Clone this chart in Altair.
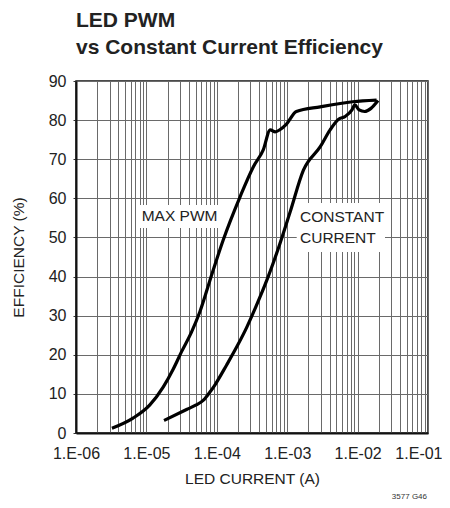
import altair as alt
import pandas as pd

FONT = "Liberation Sans, Arial, sans-serif"

# MAX PWM curve: LED current (A) and efficiency (%)
pwm_current = [3.24e-6, 6.46e-6, 1.12e-5, 1.74e-5, 2.40e-5, 3.16e-5, 4.37e-5, 5.75e-5,
               8.51e-5, 1.23e-4, 2.14e-4, 3.31e-4, 4.57e-4, 5.75e-4, 6.76e-4, 7.94e-4,
               9.77e-4, 1.35e-3, 2.95e-3, 8.51e-3, 1.86e-2]
pwm_eff = [1.2, 3.8, 7.2, 11.8, 16.3, 20.8, 25.8, 31.0,
           40.6, 49.3, 60.4, 68.1, 72.4, 77.5, 77.0, 77.6,
           79.0, 82.2, 83.4, 84.7, 85.1]

# CONSTANT CURRENT curve
cc_current = [1.78e-5, 3.72e-5, 5.01e-5, 6.46e-5, 7.94e-5, 9.33e-5, 1.38e-4, 2.0e-4,
              2.66e-4, 3.13e-4, 4.07e-4, 5.37e-4, 7.41e-4, 1.10e-3, 1.70e-3, 2.95e-3,
              4.07e-3, 5.37e-3, 6.61e-3, 8.32e-3, 9.12e-3, 1.05e-2, 1.26e-2, 1.55e-2,
              1.95e-2]
cc_eff = [3.2, 6.0, 7.1, 8.4, 10.4, 12.2, 17.4, 22.6,
          27.0, 29.8, 34.6, 40.0, 47.0, 56.5, 67.2, 73.2,
          77.5, 80.2, 80.9, 82.6, 83.9, 82.6, 82.2, 83.0,
          85.0]

# annotation labels
label_text = ["MAX PWM", "CONSTANT", "CURRENT"]
label_x = [8.57e-6, 1.52e-3, 1.52e-3]
label_y = [55.6, 55.3, 49.8]

# white boxes behind the labels (in data units)
box_x = [7.85e-6, 1.365e-3]
box_x2 = [1.186e-4, 2.45e-2]
box_y = [52.4, 46.3]
box_y2 = [58.3, 58.8]

x_ticks = [m * 10.0 ** e for e in range(-6, -1) for m in range(1, 10)] + [0.1]
y_ticks = [0.0, 10.0, 20.0, 30.0, 40.0, 50.0, 60.0, 70.0, 80.0, 90.0]

lines_df = pd.DataFrame({
    "current": pwm_current + cc_current,
    "eff": pwm_eff + cc_eff,
    "series": ["MAX PWM"] * len(pwm_current) + ["CONSTANT CURRENT"] * len(cc_current),
})
labels_df = pd.DataFrame({"text": label_text, "current": label_x, "eff": label_y})
boxes_df = pd.DataFrame({"current": box_x, "current2": box_x2, "eff": box_y, "eff2": box_y2})

xscale = alt.Scale(type="log", domain=[1e-6, 1e-1], nice=False)
yscale = alt.Scale(domain=[0, 90], nice=False, zero=True)

label_expr = ("abs(log(datum.value)/LN10 - round(log(datum.value)/LN10)) < 0.01 ? "
              "'1.E-0' + (-round(log(datum.value)/LN10)) : ''")

x_axis = alt.Axis(values=x_ticks, labelExpr=label_expr, title="LED CURRENT (A)",
                  ticks=False, labelPadding=12, labelOverlap=False, labelFlush=False,
                  labelAlign={"condition": {"test": "datum.value > 0.05", "value": "right"},
                              "value": "center"},
                  labelOffset={"condition": {"test": "datum.value > 0.05", "value": 14},
                               "value": 0},
                  grid=True, gridColor="#6a6a6a", gridWidth=1,
                  domainColor="#111", domainWidth=2,
                  labelFont=FONT, labelFontSize=16, labelColor="#222",
                  titleFont=FONT, titleFontSize=15.5, titleFontWeight="normal", titleColor="#222",
                  titleX=176, titleY=50, titleBaseline="alphabetic")
y_axis = alt.Axis(values=y_ticks, tickCount=10, format="d", title="EFFICIENCY (%)",
                  tickSize=3, tickColor="#333",
                  labelPadding=7, labelOverlap=False, labelFlush=False,
                  grid=True, gridColor="#6a6a6a", gridWidth=1,
                  domainColor="#111", domainWidth=2,
                  labelFont=FONT, labelFontSize=16, labelColor="#222",
                  titleFont=FONT, titleFontSize=15.5, titleFontWeight="normal", titleColor="#222",
                  titleX=-58, titleY=176, titleAngle=270, titleAlign="center",
                  titleBaseline="middle")

X = alt.X("current:Q", scale=xscale, axis=x_axis)
Y = alt.Y("eff:Q", scale=yscale, axis=y_axis)

boxes = alt.Chart(boxes_df).mark_rect(color="white").encode(
    x=X, x2="current2:Q", y=Y, y2="eff2:Q",
)

lines = alt.Chart(lines_df).mark_line(color="black", strokeWidth=3.2,
                                      interpolate="monotone").encode(
    x=X, y=Y, detail="series:N",
)

texts = alt.Chart(labels_df).mark_text(align="left", baseline="middle", font=FONT,
                                       fontSize=15.5, color="#222").encode(
    x=X, y=Y, text="text:N",
)

code = alt.Chart(pd.DataFrame({"t": ["3577 G46"]})).mark_text(
    align="right", baseline="alphabetic", font=FONT, fontSize=8, color="#333"
).encode(x=alt.value(351), y=alt.value(418), text="t:N")

chart = alt.layer(boxes, lines, texts, code).properties(
    width=352,
    height=352,
    autosize=alt.AutoSizeParams(type="none"),
    padding={"left": 68, "top": 73, "right": 14, "bottom": 67},
    title=alt.TitleParams(
        text=["LED PWM", "vs Constant Current Efficiency"],
        anchor="start", frame="group", font=FONT, fontSize=21, fontWeight="bold",
        color="#222", lineHeight=27, baseline="bottom", offset=19, dy=25,
    ),
).configure_view(stroke="#111", strokeWidth=1.5)

chart.save("out.html", embed_options={"renderer": "svg", "actions": False})
